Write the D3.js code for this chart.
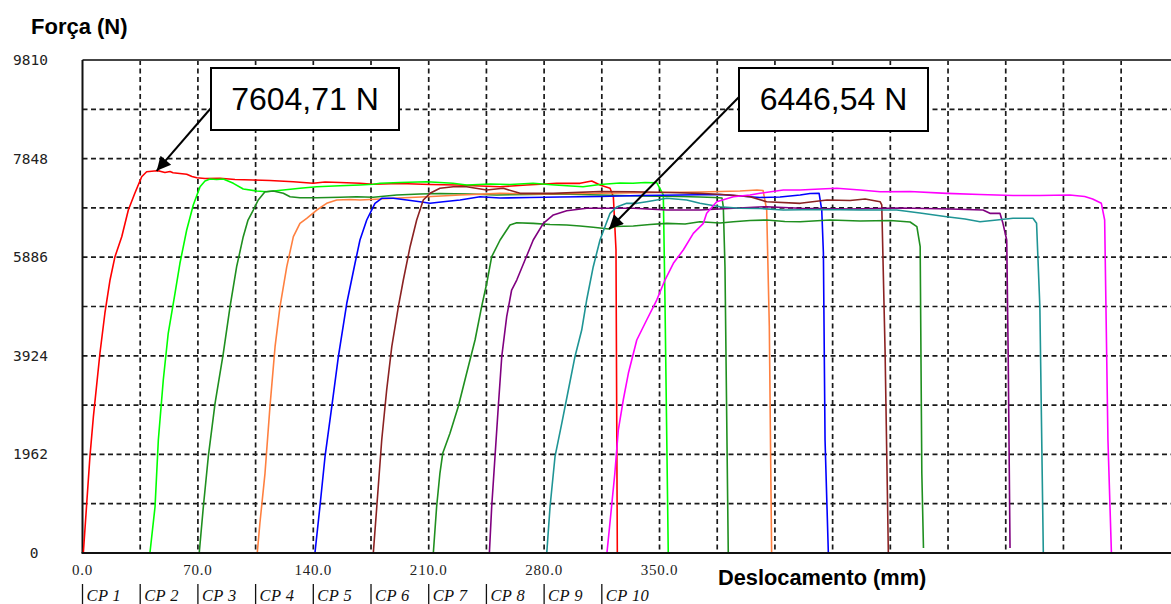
<!DOCTYPE html>
<html>
<head>
<meta charset="utf-8">
<script src="https://cdn.jsdelivr.net/npm/d3@7/dist/d3.min.js"></script>
<style>
  html, body { margin: 0; padding: 0; background: #fff; }
  svg { display: block; }
</style>
</head>
<body>
<svg id="chart" width="1171" height="604"></svg>
<script>
// Force (N) versus displacement (mm) for ten specimens, CP 1 .. CP 10.
const seriesNames = ["CP 1", "CP 2", "CP 3", "CP 4", "CP 5", "CP 6", "CP 7", "CP 8", "CP 9", "CP 10"];
const seriesColors = ["#ff0000", "#00ff00", "#1f8f1f", "#ff8040", "#0000ff", "#8b2222", "#1f8f1f", "#800080", "#1f9595", "#ff00ff"];

// [displacement mm, force N]
const cp1 = [[0.5,0],[4.5,1916],[6.6,2712],[10.6,3980],[13.6,4776],[16.7,5433],[19.7,5896],[23.8,6294],[27.8,6825],[31.8,7163],[35.9,7488],[38.9,7587],[45.0,7604.71],[47.0,7598],[50.0,7571],[53.1,7591],[54.9,7567],[59.0,7551],[63.2,7535],[66.4,7492],[69.3,7468],[74.3,7452],[83.4,7456],[92.5,7432],[103.4,7422],[113.7,7412],[127.9,7388],[139.8,7356],[147.1,7382],[156.2,7372],[168.3,7356],[176.2,7337],[192.6,7352],[210.8,7332],[227.0,7323],[241.1,7303],[253.3,7289],[269.4,7322],[280.5,7342],[287.6,7356],[301.8,7356],[308.9,7402],[313.9,7323],[320.0,7257],[322.0,7090],[323.6,6029],[324.4,0]];
const cp2 = [[34.9,0],[40.9,0],[44.0,921],[46.0,2248],[49.0,3442],[52.0,4372],[56.1,5168],[59.1,5765],[63.2,6427],[67.2,6925],[71.3,7289],[74.3,7402],[77.3,7442],[81.4,7432],[85.4,7442],[91.5,7356],[97.5,7243],[105.7,7203],[111.7,7189],[121.8,7223],[131.9,7257],[142.1,7289],[156.2,7309],[168.3,7323],[176.4,7337],[180.5,7356],[192.6,7372],[208.8,7388],[216.8,7372],[224.7,7356],[233.0,7323],[247.2,7342],[259.3,7332],[273.3,7356],[286.6,7323],[303.6,7289],[313.9,7332],[326.0,7362],[333.9,7356],[341.2,7372],[348.3,7368],[352.3,7124],[353.3,5034],[355.3,0]];
const cp3 = [[70.8,0],[73.3,921],[76.3,1916],[80.4,2979],[85.4,3974],[89.5,4901],[93.5,5697],[97.5,6294],[100.4,6626],[103.6,6825],[106.6,7024],[110.7,7189],[115.7,7203],[121.8,7157],[125.9,7090],[131.9,7070],[142.1,7070],[156.2,7078],[166.3,7090],[176.4,7078],[190.6,7124],[204.7,7143],[216.8,7153],[235.0,7143],[251.2,7124],[271.4,7134],[289.6,7143],[313.9,7124],[338.1,7104],[362.4,7094],[374.5,7084],[383.6,7074],[387.9,7064],[388.7,6885],[389.7,5697],[391.7,0]];
const cp4 = [[106.0,0],[107.6,591],[110.7,1586],[113.7,2911],[116.8,4105],[119.8,4901],[123.9,5697],[127.9,6294],[131.9,6560],[136.0,6660],[142.1,6825],[148.1,6958],[154.2,7024],[162.3,7034],[168.3,7024],[180.5,7044],[188.5,7058],[198.6,7074],[208.8,7090],[229.0,7124],[253.3,7157],[277.5,7143],[301.8,7153],[326.0,7163],[350.3,7173],[374.5,7183],[398.8,7203],[409.1,7223],[412.8,7213],[415.0,6825],[416.6,4503],[418.0,0]];
const cp5 = [[141.0,0],[144.0,921],[147.1,1916],[151.2,2911],[155.2,3906],[160.3,4969],[165.3,5765],[168.3,6228],[172.4,6626],[177.4,6958],[181.5,7058],[188.5,7058],[196.7,7024],[204.7,6990],[210.8,6958],[218.8,6990],[229.0,7024],[241.1,7090],[253.3,7064],[271.4,7074],[289.6,7084],[313.9,7094],[338.1,7114],[362.4,7124],[386.7,7134],[410.9,7074],[423.1,7084],[435.3,7124],[441.3,7153],[446.8,7157],[448.4,6825],[449.4,5969],[450.4,2249],[452.4,0]];
const cp6 = [[176.4,0],[178.5,921],[181.5,2248],[184.5,3243],[187.6,4105],[191.6,4901],[194.6,5432],[198.7,6095],[202.7,6626],[206.7,7024],[210.8,7157],[216.8,7257],[224.9,7289],[233.0,7289],[245.2,7223],[255.2,7257],[265.4,7157],[285.6,7157],[313.9,7193],[334.1,7189],[356.4,7173],[374.5,7157],[392.8,7124],[404.9,7090],[415.0,6990],[435.3,6958],[451.6,7024],[465.6,7014],[474.7,7044],[483.8,6990],[484.8,6925],[486.8,4039],[488.8,0]];
const cp7 = [[212.8,0],[214.8,921],[216.8,1586],[218.5,1984],[222.9,2382],[227.9,2911],[233.0,3576],[238.1,4238],[242.1,4901],[245.2,5367],[248.2,5896],[253.3,6228],[259.3,6527],[263.4,6572],[273.4,6560],[283.6,6537],[293.7,6527],[301.8,6507],[309.8,6481],[319.4,6446.54],[323.0,6497],[334.1,6507],[344.2,6537],[354.4,6560],[365.5,6547],[374.5,6592],[386.7,6566],[394.8,6592],[404.9,6616],[415.0,6626],[426.0,6596],[435.3,6592],[453.5,6626],[471.7,6606],[489.9,6616],[502.0,6586],[506.1,6493],[508.1,6095],[509.1,1592],[510.1,99]];
const cp8 = [[246.8,0],[248.2,921],[250.2,1916],[252.2,2911],[254.3,3906],[257.3,4702],[260.3,5233],[263.4,5432],[268.4,5830],[273.4,6228],[279.5,6560],[285.6,6726],[293.7,6811],[305.8,6859],[318.0,6859],[334.1,6859],[354.4,6825],[374.5,6825],[394.8,6859],[415.0,6891],[435.3,6859],[465.6,6845],[495.9,6865],[526.2,6845],[546.2,6825],[550.4,6759],[556.5,6759],[558.3,6560],[560.6,6228],[561.5,3906],[562.6,99]];
const cp9 = [[281.6,0],[283.6,921],[286.6,1916],[290.7,2581],[294.7,3243],[298.7,3906],[302.8,4437],[305.8,5034],[309.8,5697],[313.9,6228],[316.9,6493],[320.0,6759],[324.0,6885],[330.1,6958],[336.2,6958],[342.2,6990],[354.4,7058],[366.5,7024],[374.5,6958],[386.7,6891],[398.8,6859],[410.9,6855],[425.1,6825],[447.4,6835],[471.7,6825],[493.9,6825],[508.0,6765],[524.2,6692],[535.3,6646],[544.4,6592],[554.6,6626],[564.4,6660],[576.5,6660],[578.7,6560],[580.7,4901],[582.8,0]];
const cp10 = [[315.7,0],[318.1,0],[319.9,591],[322.9,1586],[325.0,2447],[328.0,3044],[331.1,3576],[336.2,4238],[342.2,4636],[348.3,5034],[353.3,5432],[358.4,5765],[364.4,6029],[370.5,6361],[376.6,6560],[378.6,6759],[384.7,6990],[394.8,7090],[404.9,7124],[410.9,7157],[425.1,7223],[435.3,7223],[447.4,7243],[457.5,7257],[471.7,7223],[483.8,7189],[501.9,7193],[524.2,7157],[544.4,7134],[564.4,7114],[580.7,7114],[598.8,7124],[607.9,7094],[612.7,7044],[618.0,6958],[620.0,6626],[622.0,2249],[624.1,0],[633.2,0]];
const allSeries = [cp1, cp2, cp3, cp4, cp5, cp6, cp7, cp8, cp9, cp10];

// Axis ticks
const yTicks = [0, 1962, 3924, 5886, 7848, 9810];
const yTickLabels = ["0", "1962", "3924", "5886", "7848", "9810"];
const xTicks = [0, 70, 140, 210, 280, 350];
const xTickLabels = ["0.0", "70.0", "140.0", "210.0", "280.0", "350.0"];

// Callouts: [series index, displacement mm, force N, label]
const callouts = [
  { series: 0, x: 45.0, y: 7604.71, label: "7604,71 N" },
  { series: 6, x: 319.4, y: 6446.54, label: "6446,54 N" }
];

const svg = d3.select("#chart");
const W = 1171, H = 604;
const plot = { left: 82.5, top: 60, bottom: 553, right: 1170.6 };

const x = d3.scaleLinear().domain([0, 660]).range([plot.left, plot.right]);
const y = d3.scaleLinear().domain([0, 9810]).range([plot.bottom, plot.top]);

// dashed grid
const grid = svg.append("g").attr("stroke", "#1a1a1a").attr("stroke-width", 1.7)
  .attr("stroke-dasharray", "5,3.5").attr("fill", "none");
grid.selectAll("line.h").data(d3.range(981, 9810, 981)).join("line")
  .attr("class", "h")
  .attr("x1", plot.left).attr("x2", W)
  .attr("y1", d => y(d)).attr("y2", d => y(d));
grid.selectAll("line.v").data(d3.range(35, 660, 35)).join("line")
  .attr("class", "v")
  .attr("y1", plot.top).attr("y2", plot.bottom)
  .attr("x1", d => x(d)).attr("x2", d => x(d));

// frame
svg.append("line").attr("x1", plot.left).attr("x2", W).attr("y1", plot.top).attr("y2", plot.top)
  .attr("stroke", "#444").attr("stroke-width", 2);
svg.append("line").attr("x1", plot.left).attr("x2", plot.left).attr("y1", plot.top).attr("y2", plot.bottom)
  .attr("stroke", "#111").attr("stroke-width", 2);

// curves
const line = d3.line().x(d => x(d[0])).y(d => y(d[1]));
svg.append("g").selectAll("path").data(allSeries).join("path")
  .attr("d", line)
  .attr("fill", "none")
  .attr("stroke", (d, i) => seriesColors[i])
  .attr("stroke-width", 1.6)
  .attr("stroke-linejoin", "round");

// bottom axis line
svg.append("line").attr("x1", plot.left - 1).attr("x2", W).attr("y1", plot.bottom).attr("y2", plot.bottom)
  .attr("stroke", "#111").attr("stroke-width", 2);

// y tick labels
svg.append("g").selectAll("text").data(yTicks).join("text")
  .attr("x", d => d === 0 ? 34 : 30.5).attr("y", d => y(d))
  .attr("dy", "0.35em")
  .attr("text-anchor", "middle")
  .attr("font-family", "DejaVu Sans Mono, monospace")
  .attr("font-size", 14.5)
  .attr("fill", "#222")
  .text((d, i) => yTickLabels[i]);

// x tick labels
svg.append("g").selectAll("text").data(xTicks).join("text")
  .attr("x", d => x(d)).attr("y", 575)
  .attr("text-anchor", "middle")
  .attr("font-family", "Liberation Serif, serif")
  .attr("font-size", 15)
  .attr("letter-spacing", 0.8)
  .attr("fill", "#222")
  .text((d, i) => xTickLabels[i]);

// axis titles
svg.append("text").attr("x", 31).attr("y", 34)
  .attr("font-family", "Liberation Sans, Arial, sans-serif").attr("font-weight", "bold")
  .attr("font-size", 22).attr("fill", "#000").text("Força (N)");
svg.append("text").attr("x", 718).attr("y", 585)
  .attr("font-family", "Liberation Sans, Arial, sans-serif").attr("font-weight", "bold")
  .attr("font-size", 21.8).attr("fill", "#000").text("Deslocamento (mm)");

// specimen legend along the bottom
const legend = svg.append("g").selectAll("g").data(seriesNames).join("g")
  .attr("transform", (d, i) => `translate(${x(i * 35)},0)`);
legend.append("line").attr("x1", 0).attr("x2", 0).attr("y1", 584).attr("y2", 604)
  .attr("stroke", "#111").attr("stroke-width", 1.3);
legend.append("text").attr("x", 4).attr("y", 601)
  .attr("font-family", "Liberation Serif, serif").attr("font-style", "italic")
  .attr("font-size", 16.5).attr("letter-spacing", 0.4).attr("fill", "#111")
  .text(d => d);

// value callouts with arrows
const defs = svg.append("defs");
defs.append("marker").attr("id", "arrowhead")
  .attr("viewBox", "0 0 10 10").attr("refX", 10).attr("refY", 5)
  .attr("markerWidth", 9).attr("markerHeight", 7).attr("markerUnits", "strokeWidth")
  .attr("orient", "auto")
  .append("path").attr("d", "M0,0 L10,5 L0,10 z").attr("fill", "#000");

const boxes = [
  { x: 211, y: 68, w: 188, h: 62, ax: 211, ay: 108 },
  { x: 739, y: 68, w: 189, h: 63, ax: 739, ay: 97 }
];
callouts.forEach((c, i) => {
  const b = boxes[i];
  svg.append("line")
    .attr("x1", b.ax).attr("y1", b.ay)
    .attr("x2", x(c.x)).attr("y2", y(c.y))
    .attr("stroke", "#000").attr("stroke-width", 2)
    .attr("marker-end", "url(#arrowhead)");
  svg.append("rect").attr("x", b.x).attr("y", b.y).attr("width", b.w).attr("height", b.h)
    .attr("fill", "#fff").attr("stroke", "#000").attr("stroke-width", 2);
  svg.append("text").attr("x", b.x + b.w / 2).attr("y", b.y + 42)
    .attr("text-anchor", "middle")
    .attr("font-family", "Liberation Sans, Arial, sans-serif")
    .attr("font-size", 32).attr("fill", "#000")
    .text(c.label);
});
</script>
</body>
</html>
